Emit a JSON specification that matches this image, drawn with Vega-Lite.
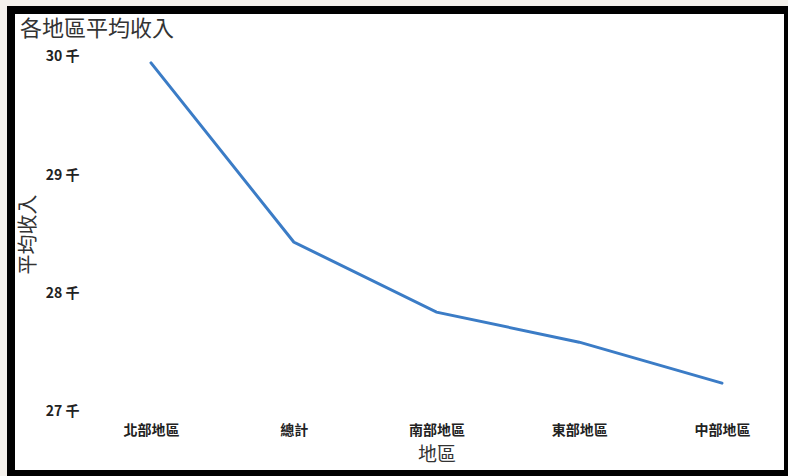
{
  "$schema": "https://vega.github.io/schema/vega-lite/v6.json",
  "width": 777,
  "height": 464,
  "autosize": {"type": "none"},
  "padding": {"left": 11, "top": 10, "right": 0, "bottom": 2},
  "background": "#f4f1ec",
  "config": {
    "view": {"fill": "white", "stroke": "black", "strokeWidth": 8},
    "font": "Noto Sans CJK TC"
  },
  "title": {
    "text": "各地區平均收入",
    "anchor": "start",
    "frame": "group",
    "dx": 9,
    "offset": -31,
    "fontSize": 22,
    "fontWeight": "normal",
    "color": "#333333"
  },
  "data": {
    "values": [
      {"地區": "北部地區", "平均收入": 29950},
      {"地區": "總計", "平均收入": 28436},
      {"地區": "南部地區", "平均收入": 27844},
      {"地區": "東部地區", "平均收入": 27590},
      {"地區": "中部地區", "平均收入": 27244}
    ]
  },
  "mark": {"type": "line", "color": "#3b7cc6", "strokeWidth": 3, "strokeCap": "round"},
  "encoding": {
    "x": {
      "field": "地區",
      "type": "nominal",
      "sort": null,
      "scale": {"type": "point", "range": [140, 711], "padding": 0},
      "axis": {
        "offset": -54,
        "labelPadding": 3,
        "ticks": false,
        "domain": false,
        "grid": false,
        "labelAngle": 0,
        "labelFontSize": 14,
        "labelFontWeight": "bold",
        "labelColor": "#222222",
        "titleFontSize": 19,
        "titleFontWeight": "normal",
        "titleColor": "#333333",
        "titlePadding": 8
      }
    },
    "y": {
      "field": "平均收入",
      "type": "quantitative",
      "scale": {"domain": [26476, 30397], "nice": false, "zero": false},
      "axis": {
        "values": [27000, 28000, 29000, 30000],
        "labelExpr": "format(datum.value / 1000, 'd') + ' 千'",
        "offset": -69,
        "labelPadding": 1,
        "ticks": false,
        "domain": false,
        "grid": false,
        "labelFontSize": 14,
        "labelFontWeight": "bold",
        "labelColor": "#222222",
        "titleFontSize": 20,
        "titleFontWeight": "normal",
        "titleColor": "#333333",
        "titlePadding": 7,
        "titleY": 224
      }
    }
  }
}
